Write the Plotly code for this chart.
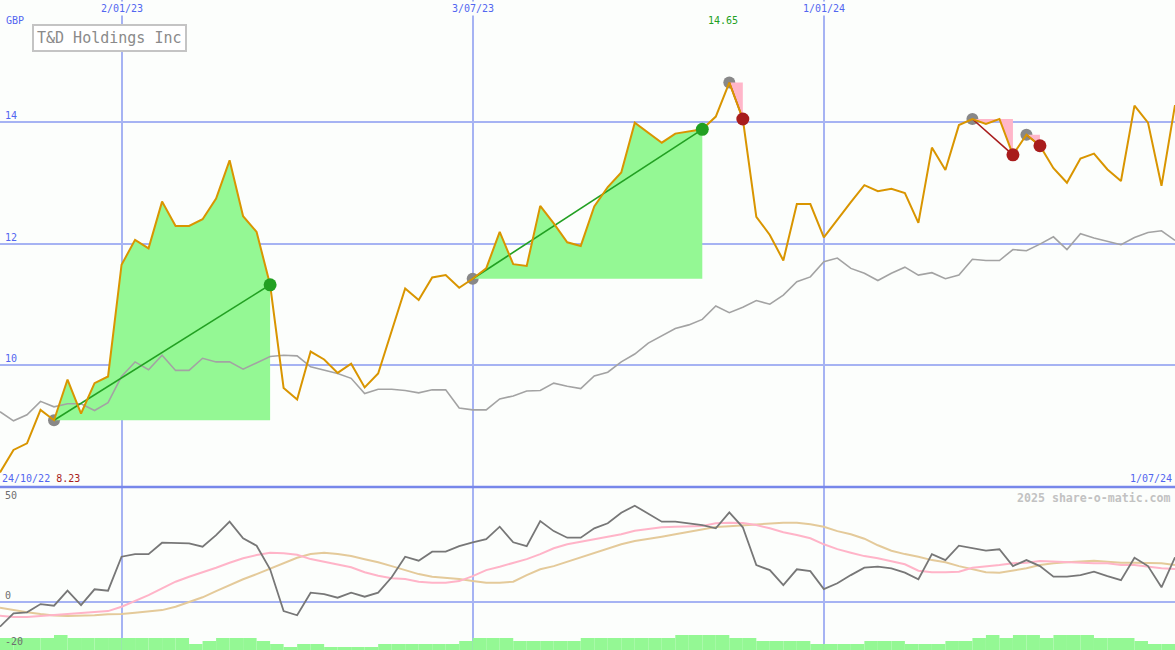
import numpy as np
import plotly.graph_objects as go

# ---------------- data ----------------
company = "T&D Holdings Inc"
currency = "GBP"
start_label = "24/10/22"
end_label = "1/07/24"
grid_labels = ["2/01/23", "3/07/23", "1/01/24"]
grid_weeks = [9, 35, 61]
price_ticks = [10, 12, 14]
osc_labels = [50, 0, -20]
watermark = "2025 share-o-matic.com"

price = [8.23, 8.60, 8.71, 9.26, 9.09, 9.76, 9.20, 9.70, 9.81, 11.65,
         12.06, 11.92, 12.69, 12.29, 12.29, 12.40, 12.74, 13.37, 12.45, 12.19,
         11.32, 9.62, 9.43, 10.22, 10.09, 9.87, 10.02, 9.63, 9.86, 10.58,
         11.26, 11.07, 11.44, 11.48, 11.27, 11.42, 11.59, 12.19, 11.66, 11.63,
         12.62, 12.33, 12.02, 11.96, 12.61, 12.93, 13.17, 13.99, 13.82, 13.66,
         13.81, 13.85, 13.88, 14.09, 14.65, 14.05, 12.44, 12.14, 11.72, 12.65,
         12.65, 12.10, 12.40, 12.68, 12.96, 12.86, 12.90, 12.83, 12.34, 13.58,
         13.21, 13.95, 14.05, 13.97, 14.05, 13.46, 13.79, 13.61, 13.24, 13.00,
         13.40, 13.48, 13.22, 13.03, 14.27, 13.99, 12.95, 14.28]

benchmark = [9.23, 9.08, 9.18, 9.40, 9.31, 9.36, 9.36, 9.25, 9.38, 9.81,
             10.05, 9.92, 10.16, 9.91, 9.91, 10.11, 10.05, 10.05, 9.93, 10.03,
             10.14, 10.16, 10.15, 9.97, 9.92, 9.86, 9.78, 9.53, 9.60, 9.60,
             9.58, 9.54, 9.59, 9.59, 9.29, 9.26, 9.26, 9.44, 9.49, 9.57,
             9.58, 9.70, 9.65, 9.61, 9.82, 9.88, 10.05, 10.18, 10.36, 10.48,
             10.60, 10.66, 10.75, 10.97, 10.86, 10.95, 11.06, 11.00, 11.15, 11.37,
             11.45, 11.70, 11.76, 11.59, 11.51, 11.39, 11.51, 11.61, 11.48, 11.52,
             11.42, 11.48, 11.74, 11.72, 11.72, 11.90, 11.88, 11.99, 12.11, 11.90,
             12.16, 12.09, 12.03, 11.98, 12.10, 12.18, 12.21, 12.05]

oscillator = [-12.5, -5.8, -5.3, -1.2, -2.0, 5.5, -1.7, 6.2, 5.5, 22.5,
              23.8, 23.8, 29.5, 29.2, 29.2, 27.5, 33.3, 40.0, 31.7, 28.0,
              16.2, -4.7, -6.8, 4.5, 3.8, 2.0, 4.5, 2.5, 4.5, 12.2,
              22.5, 20.5, 25.0, 25.0, 27.8, 29.7, 31.3, 37.5, 29.7, 27.8,
              40.3, 35.3, 32.0, 32.0, 36.7, 39.2, 44.5, 48.0, 43.8, 40.0,
              40.0, 39.2, 38.3, 36.7, 44.7, 37.2, 18.3, 15.8, 8.3, 16.2,
              15.3, 6.3, 9.2, 13.3, 17.0, 17.5, 16.7, 14.5, 11.2, 23.8,
              20.8, 28.0, 26.7, 25.5, 26.2, 17.8, 20.8, 17.8, 12.5, 12.5,
              13.3, 15.0, 12.8, 10.8, 22.0, 17.8, 7.2, 22.2]

osc_fast = [-7.0, -7.6, -7.7, -7.2, -6.7, -6.4, -6.0, -5.5, -4.7, -2.5,
            0.3, 3.3, 6.7, 10.0, 12.5, 14.7, 17.0, 19.5, 21.7, 23.3,
            24.5, 24.2, 23.5, 21.3, 20.0, 18.7, 17.2, 14.7, 13.0, 11.7,
            11.3, 10.0, 9.5, 9.5, 10.3, 12.8, 15.8, 17.5, 19.5, 21.3,
            23.8, 26.7, 28.7, 30.0, 31.2, 32.5, 33.7, 35.5, 36.3, 37.2,
            37.5, 37.8, 37.8, 39.2, 39.5, 39.3, 38.3, 36.7, 34.7, 33.3,
            31.7, 28.7, 26.3, 24.5, 22.8, 21.7, 20.3, 18.7, 15.5, 14.7,
            14.7, 15.0, 17.0, 17.5, 18.3, 19.2, 19.5, 20.3, 20.0, 19.5,
            19.5, 19.2, 19.2, 18.3, 18.3, 17.5, 16.7, 16.3]

osc_slow = [-3.0, -4.3, -5.3, -6.2, -6.9, -7.2, -7.1, -6.8, -6.3, -6.1,
            -5.5, -4.8, -4.2, -2.5, -0.3, 2.2, 5.3, 8.3, 11.2, 13.8,
            16.5, 19.2, 22.0, 23.8, 24.5, 23.8, 22.8, 21.2, 19.7, 17.8,
            15.8, 13.8, 12.5, 12.0, 11.3, 10.3, 9.5, 9.5, 10.0, 13.3,
            16.2, 17.8, 20.0, 22.0, 24.5, 26.7, 28.7, 30.3, 31.3, 32.5,
            33.7, 35.0, 36.2, 37.3, 37.7, 38.2, 38.7, 39.2, 39.5, 39.5,
            38.7, 37.5, 35.3, 33.7, 31.5, 28.2, 25.5, 23.8, 22.5, 20.8,
            19.7, 17.8, 16.2, 14.7, 14.5, 15.5, 16.7, 18.3, 19.2, 19.7,
            20.0, 20.5, 20.0, 19.5, 19.5, 19.5, 19.2, 18.3]

volume = [4, 4, 4, 4, 5, 4, 4, 4, 4, 4, 4, 4, 4, 4, 2, 3, 4, 4, 4, 3,
          2, 1, 2, 2, 1, 1, 1, 1, 2, 2, 2, 2, 2, 2, 3, 4, 4, 4, 3, 3,
          3, 3, 3, 4, 4, 4, 4, 4, 4, 4, 5, 5, 5, 5, 4, 4, 3, 3, 3, 3,
          2, 2, 2, 2, 3, 3, 3, 2, 2, 2, 3, 3, 4, 5, 4, 5, 5, 4, 5, 5,
          5, 4, 4, 4, 3, 2, 2]

signal_start = [4, 35, 54, 72, 76]
signal_end = [20, 52, 55, 75, 77]

# ---------------- styles ----------------
BG = "#fcfefc"
GRID = "#a6b3f3"
SEP = "#7787ea"
BLUE_TXT = "#5266f0"
ORANGE = "#d99500"
BENCH = "#a3a3a3"
FILL_GREEN = "#94f894"
LINE_GREEN = "#22a022"
FILL_PINK = "#ffb6c9"
RED = "#a81c1c"
MARK_GRAY = "#888888"
OSC = "#777777"
PINK = "#ffb4c8"
TAN = "#e4ca9a"
FONT = "DejaVu Sans Mono"

weeks = np.arange(len(price))
p = np.array(price)
split = 1 - 487 / 650

fig = go.Figure()

# volume blocks (bottom panel, overlay axis)
fig.add_trace(go.Bar(x=np.arange(len(volume)), y=volume, width=1, offset=0,
                     marker=dict(color=FILL_GREEN, line=dict(width=0)),
                     xaxis="x2", yaxis="y3", hoverinfo="skip"))

# start markers (drawn beneath fills)
fig.add_trace(go.Scatter(x=signal_start, y=p[signal_start], mode="markers",
                         marker=dict(size=12, color=MARK_GRAY), hoverinfo="skip"))

# gain / loss fills
for s, e in zip(signal_start, signal_end):
    xs = list(weeks[s:e + 1]) + [e, s]
    ys = list(p[s:e + 1]) + [p[s], p[s]]
    gain = p[e] > p[s]
    fig.add_trace(go.Scatter(x=xs, y=ys, mode="none", fill="toself",
                             fillcolor=FILL_GREEN if gain else FILL_PINK,
                             hoverinfo="skip"))

# benchmark
fig.add_trace(go.Scatter(x=weeks, y=benchmark, mode="lines",
                         line=dict(color=BENCH, width=1.6), hoverinfo="skip"))

# trend lines (beneath the price line)
for s, e in zip(signal_start, signal_end):
    gain = p[e] > p[s]
    col = LINE_GREEN if gain else RED
    fig.add_trace(go.Scatter(x=[s, e], y=[p[s], p[e]], mode="lines",
                             line=dict(color=col, width=1.6), hoverinfo="skip"))

# price
fig.add_trace(go.Scatter(x=weeks, y=price, mode="lines",
                         line=dict(color=ORANGE, width=2), hoverinfo="skip"))

# end markers
for s, e in zip(signal_start, signal_end):
    gain = p[e] > p[s]
    col = LINE_GREEN if gain else RED
    fig.add_trace(go.Scatter(x=[e], y=[p[e]], mode="markers",
                             marker=dict(size=13, color=col), hoverinfo="skip"))

# oscillator panel
fig.add_trace(go.Scatter(x=weeks, y=osc_slow, mode="lines", xaxis="x2", yaxis="y2",
                         line=dict(color=TAN, width=2), hoverinfo="skip"))
fig.add_trace(go.Scatter(x=weeks, y=osc_fast, mode="lines", xaxis="x2", yaxis="y2",
                         line=dict(color=PINK, width=2), hoverinfo="skip"))
fig.add_trace(go.Scatter(x=weeks, y=oscillator, mode="lines", xaxis="x2", yaxis="y2",
                         line=dict(color=OSC, width=1.8), hoverinfo="skip"))

common_x = dict(range=[0, len(price) - 1], tickvals=grid_weeks, showticklabels=False,
                showgrid=True, gridcolor=GRID, gridwidth=1.5, zeroline=False,
                showline=False, ticks="", fixedrange=True)
fig.update_layout(
    width=1175, height=650,
    margin=dict(l=0, r=0, t=0, b=0, pad=0),
    paper_bgcolor=BG, plot_bgcolor=BG,
    showlegend=False,
    font=dict(family=FONT, size=10, color=BLUE_TXT),
    xaxis=dict(domain=[0, 1], anchor="y", **common_x),
    xaxis2=dict(domain=[0, 1], anchor="y2", matches="x", **common_x),
    yaxis=dict(domain=[split, 1], range=[7.99, 16.01], tickvals=price_ticks,
               showticklabels=False, showgrid=True, gridcolor=GRID, gridwidth=2,
               zeroline=False, ticks="", fixedrange=True),
    yaxis2=dict(domain=[0, split], range=[-24.15, 57.35], tickvals=[0],
                showticklabels=False, showgrid=True, gridcolor=GRID, gridwidth=2,
                zeroline=False, ticks="", fixedrange=True),
    yaxis3=dict(overlaying="y2", range=[0, 163 / 3], visible=False, fixedrange=True),
)

# panel separator
fig.add_shape(type="line", xref="paper", yref="paper", x0=0, x1=1, y0=split, y1=split,
              line=dict(color=SEP, width=2.5), layer="above")

ann = []
# top date labels
for w, lab in zip(grid_weeks, grid_labels):
    ann.append(dict(x=w, xref="x", y=1, yref="paper", yanchor="top", xanchor="center",
                    text=lab, showarrow=False, bgcolor=BG, borderpad=1, yshift=-1,
                    font=dict(family=FONT, size=10, color=BLUE_TXT)))
ann.append(dict(x=0, xref="paper", xanchor="left", xshift=4, y=1, yref="paper",
                yanchor="top", yshift=-13, text=currency, showarrow=False,
                font=dict(family=FONT, size=10, color=BLUE_TXT)))
for t in price_ticks:
    ann.append(dict(x=0, xref="paper", xanchor="left", xshift=3, y=t, yref="y",
                    yanchor="bottom", yshift=-1, text=str(t), showarrow=False,
                    font=dict(family=FONT, size=10, color=BLUE_TXT)))
# max label
imax = int(np.argmax(p))
ann.append(dict(x=imax, xref="x", xanchor="center", xshift=-6, y=1, yref="paper",
                yanchor="top", yshift=-13, text=f"{p.max():.2f}", showarrow=False,
                font=dict(family=FONT, size=10, color=LINE_GREEN)))
# start / end labels
ann.append(dict(x=0, xref="paper", xanchor="left", xshift=0, y=split, yref="paper",
                yanchor="bottom", yshift=1,
                text=f"{start_label} <span style='color:{RED}'>{p.min():.2f}</span>",
                showarrow=False, font=dict(family=FONT, size=10, color=BLUE_TXT)))
ann.append(dict(x=1, xref="paper", xanchor="right", xshift=-1, y=split, yref="paper",
                yanchor="bottom", yshift=1, text=end_label, showarrow=False,
                font=dict(family=FONT, size=10, color=BLUE_TXT)))
# title box
ann.append(dict(x=32 / 1175, xref="paper", xanchor="left", y=1, yref="paper",
                yanchor="top", yshift=-24, text=company, showarrow=False,
                bgcolor="#ffffff", bordercolor="#c4c4c4", borderwidth=2, borderpad=3,
                font=dict(family=FONT, size=15, color="#8a8a8a")))
# oscillator labels
for v in osc_labels:
    ann.append(dict(x=0, xref="paper", xanchor="left", xshift=3, y=v, yref="y2",
                    yanchor="bottom" if v != osc_labels[-1] else "middle",
                    yshift=-1 if v != osc_labels[-1] else 0,
                    text=str(v), showarrow=False,
                    font=dict(family=FONT, size=10, color="#6e6e6e")))
ann.append(dict(x=1, xref="paper", xanchor="right", xshift=-2, y=split, yref="paper",
                yanchor="top", yshift=-2, text=f"<b>{watermark}</b>", showarrow=False,
                font=dict(family=FONT, size=11.6, color="#c2c2c2")))
fig.update_layout(annotations=ann)

fig.write_html("out.html", config={"displayModeBar": False},
               post_script="document.body.style.margin='0';document.body.style.overflow='hidden';")
